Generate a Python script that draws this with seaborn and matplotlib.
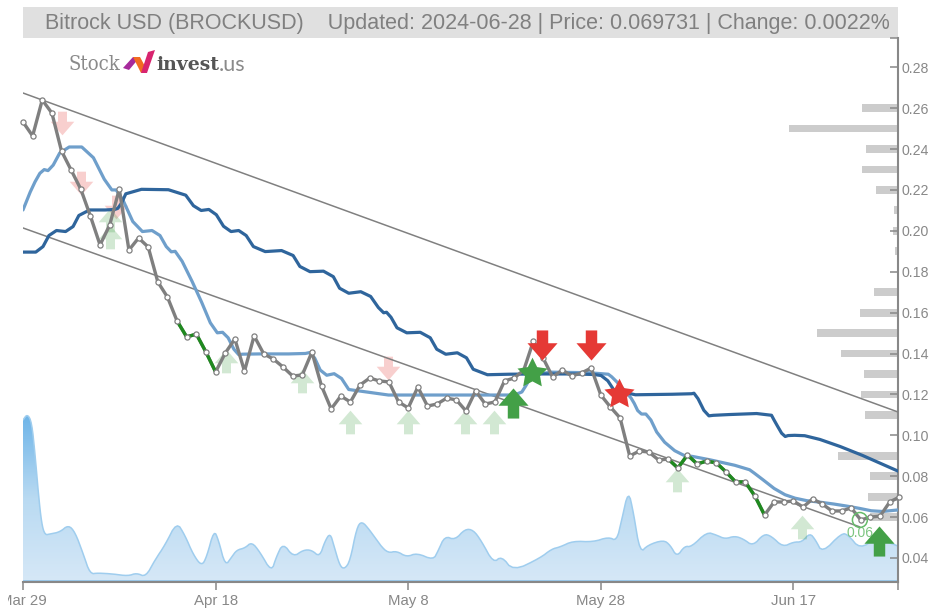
import numpy as np
import matplotlib
matplotlib.use("Agg")
import matplotlib.pyplot as plt
from matplotlib.colors import LinearSegmentedColormap
from matplotlib.patches import Polygon, Rectangle
from matplotlib.path import Path
from matplotlib.transforms import Bbox
import seaborn as sns

title = "Bitrock USD (BROCKUSD)    Updated: 2024-06-28 | Price: 0.069731 | Change: 0.0022%"
x_tick_days = [0, 20, 40, 60, 80]
x_tick_labels = ["Mar 29", "Apr 18", "May 8", "May 28", "Jun 17"]
y_tick_values = [0.04, 0.06, 0.08, 0.10, 0.12, 0.14, 0.16, 0.18, 0.20, 0.22, 0.24, 0.26, 0.28]

price = [.2532, .2464, .2640, .2576, .2390, .2297, .2204, .2072, .1931, .2028,
         .2204, .1906, .1965, .1921, .1750, .1676, .1559, .1481, .1495, .1407,
         .1310, .1402, .1471, .1314, .1486, .1398, .1373, .1334, .1290, .1295,
         .1407, .1241, .1129, .1192, .1163, .1246, .1280, .1266, .1261, .1163,
         .1134, .1236, .1143, .1153, .1182, .1173, .1119, .1217, .1153, .1163,
         .1266, .1280, .1319, .1461, .1378, .1285, .1319, .1290, .1305, .1329,
         .1197, .1138, .1085, .0899, .0923, .0918, .0879, .0884, .0840, .0904,
         .0860, .0874, .0865, .0821, .0772, .0772, .0703, .0610, .0674, .0674,
         .0679, .0649, .0689, .0664, .0630, .0630, .0645, .0586, .0600, .0605,
         .0674, .0698]
price_days = list(range(len(price)))
green_runs = [(16, 20), (67, 77)]

fast_days = [0, 1, 2, 2.8, 4.15, 6.75, 9, 9.9, 11.9, 13.9, 15.2, 16, 18.1, 19.9, 21, 22.2, 23,
             29.1, 30, 31.15, 32.7, 34.2, 49.2, 51.6, 52.4, 53, 60.6, 61.3, 62.7, 63.3, 64,
             64.9, 66.1, 68.2, 70, 75.2, 76.2, 78.6, 80.7, 83.5, 86.2, 88.7, 90.86]
fast_vals = [.2102, .2219, .2302, .2292, .2410, .2410, .2200, .2200, .1994, .2004, .1896, .1901,
             .1701, .1500, .1505, .1393, .1398, .1398, .1407, .1290, .1305, .1197, .1197, .1197,
             .1256, .1310, .1305, .1280, .1207, .1173, .1104, .1104, .0987, .0904, .0894, .0840,
             .0806, .0718, .0684, .0669, .0649, .0625, .0635]

slow_days = [0, 1.77, 3, 4.9, 6.1, 9.35, 10, 10.9, 16.5, 18.1, 19.7, 21.2, 22.8, 24.3, 27.7,
             29.1, 31.9, 33.2, 35.7, 37.3, 37.9, 39.15, 41.95, 43.3, 45.7, 47.1, 51.6, 58.9,
             60.4, 61.7, 69.3, 69.8, 71, 71.9, 77.6, 78.1, 79, 79.6, 81.7, 85.9, 90.86]
slow_vals = [.1896, .1896, .2004, .1994, .2102, .2102, .2112, .2204, .2200, .2097, .2107, .1994,
             .2004, .1896, .1906, .1799, .1804, .1691, .1706, .1598, .1603, .1500, .1505, .1393,
             .1407, .1295, .1300, .1300, .1290, .1197, .1202, .1207, .1094, .1099, .1109, .1065,
             .0992, .1001, .0997, .0928, .0825]

upper_days = [0, 90.86]
upper_vals = [.2674, .1114]
lower_days = [0, 86.9]
lower_vals = [.2014, .0552]

vol_days = [0, .45, .9, 1.25, 1.6, 1.94, 2.28, 2.8, 3.84, 4.7, 5.4, 6.26, 6.96, 7.8, 9.4, 10.9,
            11.8, 12.74, 13.7, 14.75, 15.96, 16.8, 17.7, 18.55, 19.07, 19.83, 20.3, 21, 21.67,
            22.2, 23.05, 23.75, 24.6, 25.8, 26.3, 27, 28.07, 29.1, 29.97, 30.8, 31.36, 31.9,
            32.3, 32.9, 33.4, 33.96, 34.65, 35.17, 36, 37.07, 37.9, 38.8, 39.84, 40.9, 42.6,
            43.1, 43.8, 44.86, 45.9, 46.76, 47.6, 48.84, 49.7, 50.9, 53.7, 54.9, 55.77, 57.1,
            59.2, 60.8, 61.65, 62.17, 62.86, 63.4, 64.07, 64.9, 66.5, 67.2, 67.9, 68.7, 69.4,
            71, 72, 72.9, 73.9, 74.8, 75.8, 76.9, 77.7, 78.9, 80, 80.9, 81.7, 82.3, 83, 85,
            85.7, 86.9, 88.6, 90.86]
vol_vals = [162, 168, 160, 128, 88, 58, 47, 48, 50, 57, 50, 28, 8, 9, 8, 6,
            9, 5, 22, 37, 60, 47, 27, 16, 25, 52, 42, 16, 25,
            32, 34, 40, 30, 10, 25, 39, 25, 32, 32, 25, 41, 49,
            36, 16, 13, 21, 54, 61, 52, 37, 29, 31, 25, 29, 22,
            31, 46, 42, 53, 52, 41, 19, 26, 11, 24, 33, 35, 41,
            40, 45, 41, 62, 92, 69, 29, 37, 42, 37, 25, 36, 35,
            50, 47, 43, 46, 43, 36, 48, 46, 35, 40, 40, 49, 42, 29, 49,
            47, 33, 44, 36]

profile_levels = [.26, .25, .24, .23, .22, .21, .20, .19, .17, .16, .15, .14, .13, .12, .11,
                  .09, .08, .07, .06]
profile_sizes = [36, 109, 32, 36, 22, 4, 5, 3, 24, 38, 81, 57, 34, 37, 33, 60, 28, 30, 28]

weak_sell_days = [4.05, 6.0, 9.7, 37.9]
weak_sell_vals = [.2527, .2234, .2116, .1329]
weak_buy_days = [9, 9, 21.1, 29, 34, 40, 45.9, 48.9, 67.9, 80.9]
weak_buy_vals = [.2053, .1970, .1363, .1266, .1065, .1065, .1065, .1065, .0781, .0552]
strong_buy_days = [50.9, 88.9]
strong_buy_vals = [.1158, .0483]
strong_sell_days = [53.9, 59]
strong_sell_vals = [.1442, .1442]
buy_star_days = [52.9]
buy_star_vals = [.1305]
sell_star_days = [61.9]
sell_star_vals = [.1202]
low_mark_day = [86.9]
low_mark_val = [.0586]
low_label = "0.06"

W, H = 930, 608
GREY = "#888888"
sns.set_theme(style="white")
plt.rcParams["font.family"] = ["Liberation Sans", "DejaVu Sans"]


def smooth(xs, ys, rounds=1):
    """Corner rounding of the drawn line, as the spline of the original chart does."""
    p = np.column_stack([xs, ys]).astype(float)
    for _ in range(rounds):
        q = np.empty((2 * len(p), 2))
        q[0::2] = 0.75 * p + 0.25 * np.roll(p, -1, axis=0)
        q[1::2] = 0.25 * p + 0.75 * np.roll(p, -1, axis=0)
        p = np.vstack([p[:1], q[:-2], p[-1:]])
    return p[:, 0], p[:, 1]


def fx(px):
    return px / W


def fy(py):
    return 1 - py / H


fig = plt.figure(figsize=(W / 100, H / 100), dpi=100, facecolor="white")
rect = [fx(23), fy(582), fx(898) - fx(23), fy(38) - fy(582)]
XLIM = (0, 90.86)
YLIM = (0.02826, 0.2943)

# Volume (behind everything)
ax_vol = fig.add_axes(rect, zorder=0)
ax_vol.set_xlim(XLIM)
ax_vol.set_ylim(0, 544)
ax_vol.axis("off")
vx, vy = smooth(vol_days, vol_vals, 2)
poly = ax_vol.fill_between(vx, 0, vy, color="none", linewidth=0)
cmap = LinearSegmentedColormap.from_list("vol", ["#d6e8f7", "#b9daf2", "#6db4e8"])
img = ax_vol.imshow(np.linspace(1, 0, 256).reshape(-1, 1), cmap=cmap, aspect="auto",
                    extent=(XLIM[0], XLIM[1], 0, 168), zorder=1, vmin=0, vmax=1)
img.set_clip_path(poly.get_paths()[0], transform=ax_vol.transData)
ax_vol.set_xlim(XLIM)
ax_vol.set_ylim(0, 544)
sns.lineplot(x=vx, y=vy, ax=ax_vol, estimator=None, sort=False, color="#9fcdee", linewidth=1.1, zorder=2)
ax_vol.plot(XLIM, [0.8, 0.8], color="#8fc3ea", lw=1.2, zorder=2)

# Price profile bars, growing left from the right axis
ax_bar = fig.add_axes(rect, zorder=1)
ax_bar.patch.set_visible(False)
ax_bar.axis("off")
ax_bar.set_xlim(875, 0)
ax_bar.set_ylim(YLIM)
ax_bar.barh(profile_levels, profile_sizes, height=0.0038, color="#cccccc", linewidth=0)

# Main axes
ax = fig.add_axes(rect, zorder=2)
ax.patch.set_visible(False)
ax.set_xlim(XLIM)
ax.set_ylim(YLIM)


def arrow(up=True):
    s = 1 if up else -1
    j = -0.15 * s
    v = [(0, s), (1, j), (0.38, j), (0.38, -s), (-0.38, -s), (-0.38, j), (-1, j), (0, s)]
    return Path(v, closed=True)


def star():
    angles = np.pi / 2 + np.arange(11) * np.pi / 5
    radii = np.where(np.arange(11) % 2 == 0, 1.0, 0.5)
    return Path(np.column_stack([radii * np.cos(angles), radii * np.sin(angles)]), closed=True)


def marks(xs, ys, marker, color, size, alpha=1.0, z=3):
    sns.scatterplot(x=xs, y=ys, ax=ax, marker=marker, color=color, s=size, alpha=alpha,
                    linewidth=0, zorder=z, legend=False)


marks(weak_sell_days, weak_sell_vals, arrow(False), "#e53935", 290, 0.24, 2)
marks(weak_buy_days, weak_buy_vals, arrow(True), "#43a047", 290, 0.24, 2)

sns.lineplot(x=upper_days, y=upper_vals, ax=ax, estimator=None, sort=False, color="#808080", linewidth=1.1, zorder=3)
sns.lineplot(x=lower_days, y=lower_vals, ax=ax, estimator=None, sort=False, color="#808080", linewidth=1.1, zorder=3)

fx_x, fx_y = smooth(fast_days, fast_vals)
sl_x, sl_y = smooth(slow_days, slow_vals)
sns.lineplot(x=fx_x, y=fx_y, ax=ax, estimator=None, sort=False, color="#6f9fcb", linewidth=2.3, zorder=4)
sns.lineplot(x=sl_x, y=sl_y, ax=ax, estimator=None, sort=False, color="#2f659c", linewidth=2.3, zorder=4)

sns.lineplot(x=price_days, y=price, ax=ax, estimator=None, sort=False, color="#7f7f7f", linewidth=2.4, zorder=5)
for a, b in green_runs:
    sns.lineplot(x=price_days[a:b + 1], y=price[a:b + 1], ax=ax, estimator=None, sort=False,
                 color="#1f8a1f", linewidth=2.4, zorder=5)
pts = ax.plot(price_days, price, ls="none", marker="o", ms=3.7, mfc="white", mec="#808080",
              mew=0.9, zorder=6, clip_on=False)

marks(strong_buy_days, strong_buy_vals, arrow(True), "#43a047", 470, 1, 7)
marks(strong_sell_days, strong_sell_vals, arrow(False), "#e53935", 470, 1, 7)
marks(buy_star_days, buy_star_vals, star(), "#43a047", 520, 1, 7)
marks(sell_star_days, sell_star_vals, star(), "#e53935", 520, 1, 7)

ax.scatter(low_mark_day, low_mark_val, s=115, facecolor="none", edgecolor="#66bb6a", linewidth=1.1, zorder=6)
ax.text(low_mark_day[0], 0.0522, low_label, color="#66bb6a", fontsize=10, ha="center", va="center",
        alpha=0.85, zorder=6)

# Axes styling
for side in ("top", "left"):
    ax.spines[side].set_visible(False)
for side in ("right", "bottom"):
    ax.spines[side].set_color(GREY)
    ax.spines[side].set_linewidth(1.5)
ax.yaxis.tick_right()
ax.set_yticks(y_tick_values + [YLIM[1]])
ax.set_yticklabels([f"{v:.2f}" for v in y_tick_values] + [""])
ax.tick_params(axis="y", direction="in", length=5.5, width=1.1, color=GREY, pad=2.6,
               labelsize=10.2, labelcolor=GREY, left=False, right=True)
ax.set_xticks(x_tick_days + [XLIM[1]])
ax.set_xticklabels(x_tick_labels + [""])
ax.tick_params(axis="x", direction="out", length=5.5, width=1.1, color=GREY, pad=3,
               labelsize=10.8, labelcolor=GREY, bottom=True)
ax.set_xlabel("")
ax.set_ylabel("")

# Clip the first date label at the left edge of the original drawing area
fig.canvas.draw()
clip = Bbox.from_extents(8, 0, W, H)
for t in ax.get_xticklabels():
    t.set_clip_box(clip)
    t.set_clip_on(True)

# Header band
fig.add_artist(Rectangle((fx(23), fy(38)), fx(898) - fx(23), fy(7) - fy(38), transform=fig.transFigure,
                         facecolor="#e0e0e0", edgecolor="none", zorder=-1))
fig.text(fx(45), fy(23), title, color="#808080", fontsize=15.5, ha="left", va="center")

# Logo
fig.text(fx(68), fy(65), "Stock", color="#8a8a8a", fontsize=14.5, family="DejaVu Serif",
         fontweight="light", ha="left", va="center", fontstretch="condensed")
fig.text(fx(156), fy(65), "invest", color="#555555", fontsize=13.6, family="DejaVu Serif",
         fontweight="bold", ha="left", va="center")
fig.text(fx(219), fy(65), ".us", color="#8a8a8a", fontsize=15.5, family="Lato", ha="left", va="center")
for verts, col in [
    ([(123, 68), (133, 57), (140, 57), (129, 70)], "#a62a9c"),
    ([(133, 57), (140, 57), (147, 70), (141, 73)], "#f26b21"),
    ([(141, 73), (147, 73), (155, 50), (148, 52)], "#d8246f"),
]:
    fig.add_artist(Polygon([(fx(a), fy(b)) for a, b in verts], closed=True, transform=fig.transFigure,
                           facecolor=col, edgecolor="none"))

fig.savefig("out.png", dpi=100)
